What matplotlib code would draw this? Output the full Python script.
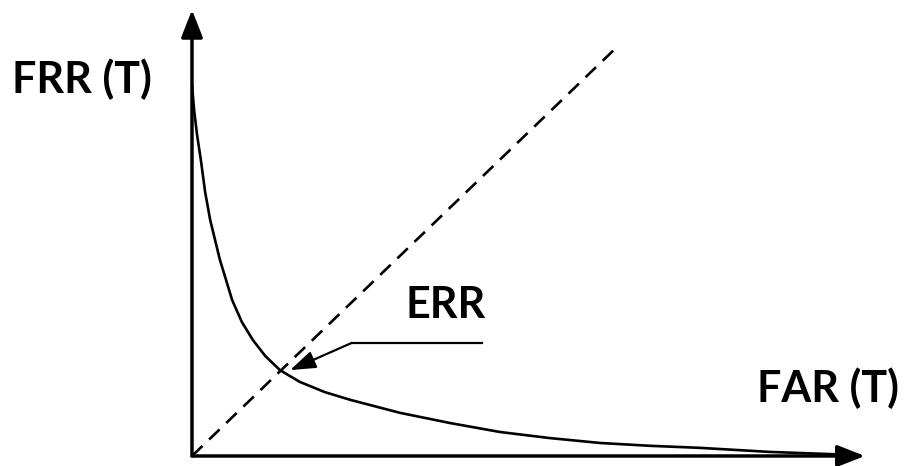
"""Sketch of the FAR/FRR trade-off curve with the equal error rate point."""

import matplotlib

matplotlib.use("Agg")
import matplotlib.pyplot as plt

# FRR as a function of FAR (both relative to threshold T)
FAR = [0.000, 0.005, 0.012, 0.021, 0.031, 0.043, 0.066, 0.095, 0.118, 0.144,
       0.173, 0.208, 0.255, 0.314, 0.374, 0.492, 0.610, 0.728, 0.846, 0.965,
       1.083, 1.201, 1.366, 1.579]
FRR = [0.912, 0.850, 0.789, 0.727, 0.649, 0.580, 0.482, 0.383, 0.329, 0.285,
       0.246, 0.211, 0.182, 0.157, 0.138, 0.106, 0.081, 0.059, 0.044, 0.032,
       0.025, 0.020, 0.010, 0.002]

# FAR == FRR diagonal
DIAG_X = [0.0, 1.0]
DIAG_Y = [0.0, 1.0]

ERR_POINT = (0.232, 0.211)
ERR_ELBOW = (0.378, 0.278)
ERR_TAIL = (0.686, 0.278)

X_AXIS_END = 1.591
Y_AXIS_END = 1.096

FONT = "Lato"
LABEL_SIZE = 31

fig = plt.figure(figsize=(9.05, 4.66), dpi=100)
ax = fig.add_axes([0, 0, 1, 1])
ax.set_xlim(-0.454, 1.686)
ax.set_ylim(-0.0246, 1.1204)
ax.axis("off")

# axes with arrow heads
arrow_style = dict(arrowstyle="-|>,head_length=1.4,head_width=0.55",
                   color="black", lw=2.5, mutation_scale=12,
                   shrinkA=0, shrinkB=0)
ax.annotate("", xy=(X_AXIS_END, 0), xytext=(0, 0), arrowprops=arrow_style)
ax.annotate("", xy=(0, Y_AXIS_END), xytext=(0, 0), arrowprops=arrow_style)

ax.plot(DIAG_X, DIAG_Y, color="black", lw=1.9, linestyle=(0, (5.5, 3.5)))
ax.plot(FAR, FRR, color="black", lw=1.9, solid_capstyle="round")

# ERR pointer: horizontal leader then an arrow onto the crossing
ax.plot([ERR_TAIL[0], ERR_ELBOW[0]], [ERR_TAIL[1], ERR_ELBOW[1]],
        color="black", lw=1.6)
ax.annotate("", xy=ERR_POINT, xytext=ERR_ELBOW,
            arrowprops=dict(arrowstyle="-|>,head_length=1.3,head_width=0.45",
                            color="black", lw=1.6, mutation_scale=12,
                            shrinkA=0, shrinkB=0))

ax.text(-0.426, 0.892, "FRR (T)", fontsize=LABEL_SIZE, fontweight="bold",
        family=FONT, ha="left", va="baseline")
ax.text(1.336, 0.133, "FAR (T)", fontsize=LABEL_SIZE, fontweight="bold",
        family=FONT, ha="left", va="baseline")
ax.text(0.504, 0.339, "ERR", fontsize=LABEL_SIZE, fontweight="bold",
        family=FONT, ha="left", va="baseline")

fig.savefig("out.png", dpi=100, facecolor="white")
